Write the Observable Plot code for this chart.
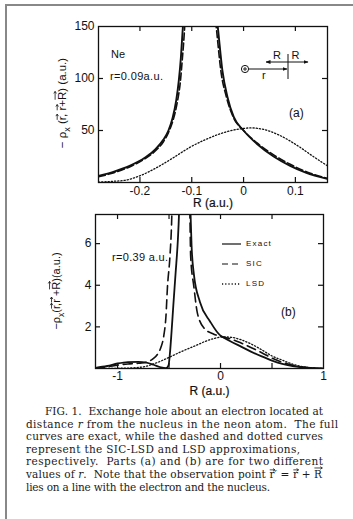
<!DOCTYPE html>
<html><head><meta charset="utf-8">
<script src="https://cdn.jsdelivr.net/npm/d3@7"></script>
<script src="https://cdn.jsdelivr.net/npm/@observablehq/plot@0.6"></script>
<style>
body{margin:0;background:#fff;}
#wrap{position:relative;width:353px;height:519px;overflow:hidden;background:#fff;}
#wrap > *{position:absolute;}
</style></head><body><div id="wrap"></div>
<script>
// ---------- Panel (a): r = 0.09 a.u. ----------
const aExactLeft  = [[-0.28,6.3],[-0.25,10.5],[-0.22,16],[-0.19,24],[-0.17,32],[-0.155,41],[-0.145,50],[-0.137,62],[-0.13,79],[-0.125,98],[-0.121,120],[-0.118,143],[-0.115,165]];
const aExactRight = [[-0.053,165],[-0.049,146],[-0.041,108],[-0.031,82],[-0.019,63],[0.0,50],[0.026,37],[0.058,25],[0.09,16],[0.12,9.5],[0.162,3.5]];
const aSicLeft    = [[-0.28,5.5],[-0.25,9.5],[-0.22,15],[-0.19,23],[-0.17,30.5],[-0.155,39],[-0.145,48],[-0.136,60],[-0.128,77],[-0.122,97],[-0.118,120],[-0.1145,143],[-0.112,165]];
const aSicRight   = [[-0.056,165],[-0.052,146],[-0.044,108],[-0.033,82],[-0.02,63],[0.0,50],[0.026,38],[0.058,26.5],[0.09,17.5],[0.12,10.5],[0.162,4]];
const aLsd        = [[-0.28,0.3],[-0.25,1.2],[-0.23,2],[-0.2,6.5],[-0.167,14.5],[-0.135,24],[-0.103,34],[-0.07,42],[-0.038,48],[-0.006,51.6],[0.014,52.5],[0.039,51],[0.071,45],[0.104,35.5],[0.136,24.5],[0.162,16]];
const aXTicks = [-0.2,-0.1,0,0.1];
const aXTickLabels = ["-0.2","-0.1","0","0.1"];
const aYTicks = [50,100,150];
const aYTickLabels = ["50","100","150"];

// ---------- Panel (b): r = 0.39 a.u. ----------
const bExactLeft  = [[-1.214,0.03],[-1.1,0.12],[-1.0,0.24],[-0.9,0.31],[-0.8,0.32],[-0.72,0.28],[-0.65,0.18],[-0.58,0.06],[-0.53,0.02],[-0.505,0.15],[-0.49,0.8],[-0.475,1.8],[-0.458,3.05],[-0.436,4.6],[-0.414,6.2],[-0.404,7.3],[-0.395,9]];
const bExactRight = [[-0.30,9],[-0.29,7.3],[-0.281,5.9],[-0.258,4.5],[-0.2,3.2],[-0.1,2.25],[0.0,1.58],[0.02,1.52],[0.1,1.3],[0.2,1.05],[0.3,0.8],[0.4,0.58],[0.5,0.38],[0.6,0.22],[0.7,0.12],[0.8,0.05],[0.9,0.02],[1.0,0.0]];
const bSicLeft    = [[-1.214,0.02],[-1.1,0.08],[-1.0,0.16],[-0.9,0.22],[-0.8,0.25],[-0.72,0.3],[-0.66,0.45],[-0.61,0.7],[-0.58,1.0],[-0.55,1.6],[-0.53,2.5],[-0.516,3.85],[-0.491,5.4],[-0.475,7.0],[-0.465,9]];
const bSicRight   = [[-0.305,9],[-0.297,7.3],[-0.29,5.4],[-0.258,3.9],[-0.226,2.7],[-0.161,1.95],[-0.065,1.65],[0.016,1.52],[0.1,1.42],[0.2,1.22],[0.3,1.0],[0.4,0.76],[0.5,0.5],[0.6,0.3],[0.7,0.16],[0.8,0.07],[0.9,0.02],[1.0,0.0]];
const bLsd        = [[-1.214,0.0],[-0.9,0.02],[-0.75,0.08],[-0.65,0.22],[-0.55,0.42],[-0.45,0.65],[-0.35,0.88],[-0.25,1.08],[-0.15,1.3],[-0.05,1.46],[0.02,1.52],[0.1,1.5],[0.2,1.38],[0.3,1.17],[0.4,0.9],[0.5,0.6],[0.6,0.4],[0.7,0.21],[0.8,0.08],[0.9,0.02],[1.0,0.0]];
const bXTicks = [-1,-0.5,0,0.5,1];
const bXTickLabels = ["-1","","0","","1"];
const bYTicks = [2,4,6];
const bYTickLabels = ["2","4","6"];

const legendLabels = ["Exact","SIC","LSD"];
// caption segments: plain strings, {i:"…"} italic, {v:"…"} letter with a vector arrow
const captionLines = [
  ["FIG. 1.  Exchange hole about an electron located at"],
  ["distance ", {i: "r"}, " from the nucleus in the neon atom.  The full"],
  ["curves are exact, while the dashed and dotted curves"],
  ["represent the SIC-LSD and LSD approximations,"],
  ["respectively.  Parts (a) and (b) are for two different"],
  ["values of ", {i: "r"}, ".  Note that the observation point ", {v: "r"}, "\u2032 = ", {v: "r"}, " + ", {v: "R"}],
  ["lies on a line with the electron and the nucleus."]
];
const yTitleA = ["\u2212 \u03C1", {s: "x"}, " (", {v: "r"}, ", ", {v: "r"}, "+", {v: "R"}, ") (a.u.)"];
const yTitleB = ["\u2212\u03C1", {s: "x"}, "(", {v: "r"}, ",", {v: "r"}, " +", {v: "R"}, ")(a.u.)"];

const INK = "#111";
const FONT = "'Liberation Sans', Arial, Helvetica, sans-serif";
const rows = (arr, seg) => arr.map(([R, v]) => ({R, v, seg}));

function panel({width, height, mt, mb, ml, mr, xDomain, yDomain, exact, sic, lsd, xTicks, xLabels, yTicks, yLabels, dash, lw, xPad, labelDy}) {
  const fw = width - ml - mr, fh = height - mt - mb;
  const exactData = exact.flatMap((s, i) => rows(s, "e" + i));
  const sicData = sic.flatMap((s, i) => rows(s, "s" + i));
  const lsdData = rows(lsd, "l");
  const innerX = xTicks.filter(t => t > xDomain[0] && t < xDomain[1]);
  const innerY = yTicks.filter(t => t > yDomain[0] && t < yDomain[1]);
  return Plot.plot({
    width, height, marginTop: mt, marginBottom: mb, marginLeft: ml, marginRight: mr,
    style: {fontFamily: FONT, fontSize: "12px", color: INK, background: "transparent"},
    x: {domain: xDomain, axis: null},
    y: {domain: yDomain, axis: null},
    marks: [
      Plot.line(lsdData, {x: "R", y: "v", z: "seg", curve: "monotone-x", clip: true, stroke: INK, strokeWidth: 1.3, strokeDasharray: "1.2,2", strokeLinecap: "round"}),
      Plot.line(sicData, {x: "R", y: "v", z: "seg", curve: "monotone-x", clip: true, stroke: INK, strokeWidth: 1.6, strokeDasharray: dash}),
      Plot.line(exactData, {x: "R", y: "v", z: "seg", curve: "monotone-x", clip: true, stroke: INK, strokeWidth: lw}),
      Plot.frame({stroke: INK, strokeWidth: 1.3}),
      Plot.tickX(innerX, {x: d => d, insetTop: fh - 5, stroke: INK, strokeWidth: 1.2}),
      Plot.tickX(innerX, {x: d => d, insetBottom: fh - 5, stroke: INK, strokeWidth: 1.2}),
      Plot.tickY(innerY, {y: d => d, insetRight: fw - 5, stroke: INK, strokeWidth: 1.2}),
      Plot.tickY(innerY, {y: d => d, insetLeft: fw - 5, stroke: INK, strokeWidth: 1.2}),
      Plot.axisX(xTicks, {anchor: "bottom", tickSize: 0, tickPadding: xPad, tickFormat: d => xLabels[xTicks.indexOf(d)], label: null, fill: INK, stroke: INK, strokeWidth: 0.25}),
      Plot.axisY(yTicks, {anchor: "left", tickSize: 0, tickPadding: 4, tickFormat: d => yLabels[yTicks.indexOf(d)], label: null, fill: INK, stroke: INK, strokeWidth: 0.25}),
      Plot.text(["R (a.u.)"], {frameAnchor: "bottom", dy: labelDy, text: d => d, fill: INK, fontSize: 12, stroke: INK, strokeWidth: 0.2})
    ]
  });
}

// rich text: segments -> tspans; vector arrows drawn above flagged letters
function richText(parent, segs, {x = 0, y = 0, size = 11, family = FONT, anchor = "start", textLength = null, fill = INK}) {
  const t = parent.append("text").attr("x", x).attr("y", y).attr("font-size", size)
    .attr("font-family", family).attr("fill", fill).attr("text-anchor", anchor)
    .attr("xml:space", "preserve").style("white-space", "pre");
  if (textLength) t.attr("textLength", textLength);
  let idx = 0, pendingDy = 0;
  const vecIdx = [];
  for (const s of segs) {
    const sp = t.append("tspan");
    if (pendingDy) { sp.attr("dy", pendingDy); pendingDy = 0; }
    if (typeof s === "string") { sp.text(s); idx += [...s].length; }
    else if (s.i) { sp.attr("font-style", "italic").text(s.i); idx += s.i.length; }
    else if (s.s) { sp.attr("dy", size * 0.35).attr("font-size", size * 0.78).text(s.s); pendingDy = -size * 0.35; idx += s.s.length; }
    else if (s.v) { sp.text(s.v); vecIdx.push([idx, s.v]); idx += s.v.length; }
  }
  const node = t.node();
  for (const [i, ch] of vecIdx) {
    const a = node.getStartPositionOfChar(i), b = node.getEndPositionOfChar(i);
    const up = (ch === ch.toUpperCase() ? 0.86 : 0.68) * size;
    const yy = a.y - up - 1;
    const x1 = a.x + 0.3, x2 = Math.max(b.x, a.x + size * 0.5) + 0.3;
    parent.append("path").attr("d", `M${x1},${yy}H${x2}M${x2 - 2},${yy - 1.3}L${x2},${yy}L${x2 - 2},${yy + 1.3}`)
      .attr("fill", "none").attr("stroke", fill).attr("stroke-width", 0.8);
  }
  return t;
}

const wrap = d3.select("#wrap");
wrap.append("div").style("left", "5px").style("top", "4px").style("width", "348px").style("height", "2px").style("background", "#888");
wrap.append("div").style("left", "5px").style("top", "4px").style("width", "2px").style("height", "515px").style("background", "#888");

// Panel (a)
const pa = panel({width: 353, height: 210, mt: 26, mb: 28, ml: 98, mr: 26,
  xDomain: [-0.28, 0.162], yDomain: [0, 150],
  exact: [aExactLeft, aExactRight], sic: [aSicLeft, aSicRight], lsd: aLsd,
  xTicks: aXTicks, xLabels: aXTickLabels, yTicks: aYTicks, yLabels: aYTickLabels, dash: "7,3", lw: 1.9, xPad: 4, labelDy: 24});
pa.style.left = "0px"; pa.style.top = "0px";
document.getElementById("wrap").appendChild(pa);

// Panel (b)
const pb = panel({width: 353, height: 195, mt: 9, mb: 32, ml: 95, mr: 30,
  xDomain: [-1.214, 1.0], yDomain: [0, 7.4],
  exact: [bExactLeft, bExactRight], sic: [bSicLeft, bSicRight], lsd: bLsd,
  xTicks: bXTicks, xLabels: bXTickLabels, yTicks: bYTicks, yLabels: bYTickLabels, dash: "9,5", lw: 1.8, xPad: 3, labelDy: 26});
pb.style.left = "0px"; pb.style.top = "205px";
document.getElementById("wrap").appendChild(pb);

// y-axis titles (rotated)
const ga = d3.select(pa).append("g").attr("transform", "translate(66,103) rotate(-90)");
richText(ga, yTitleA, {size: 11.5, anchor: "middle"});
const gb = d3.select(pb).append("g").attr("transform", `translate(60,${291 - 205}) rotate(-90)`);
richText(gb, yTitleB, {size: 11, anchor: "middle"});

// plain annotation text
const txt = (sel, x, y, s, size, extra = {}) => {
  const t = sel.append("text").attr("x", x).attr("y", y).attr("dominant-baseline", "middle")
    .attr("text-anchor", "start").attr("font-family", FONT).attr("font-size", size).attr("fill", INK).text(s);
  for (const k in extra) t.attr(k, extra[k]);
  return t;
};

// Annotations panel (a)
const sa = d3.select(pa);
txt(sa, 111, 55, "Ne", 11);
txt(sa, 110, 77, "r=0.09a.u.", 11, {textLength: 53});
txt(sa, 289, 114, "(a)", 12);
const defs = sa.append("defs");
defs.append("marker").attr("id", "ah").attr("viewBox", "0 0 10 10").attr("refX", 9).attr("refY", 5)
  .attr("markerWidth", 5).attr("markerHeight", 5).attr("orient", "auto-start-reverse")
  .append("path").attr("d", "M0,1L10,5L0,9z").attr("fill", INK);
sa.append("circle").attr("cx", 245).attr("cy", 69).attr("r", 3.6).attr("fill", "none").attr("stroke", INK).attr("stroke-width", 1);
sa.append("path").attr("d", "M243,69H247M245,67V71").attr("stroke", INK).attr("stroke-width", 0.9);
sa.append("line").attr("x1", 249).attr("y1", 69).attr("x2", 287).attr("y2", 69).attr("stroke", INK).attr("stroke-width", 1).attr("marker-end", "url(#ah)");
sa.append("line").attr("x1", 288).attr("y1", 54).attr("x2", 288).attr("y2", 79).attr("stroke", INK).attr("stroke-width", 1);
sa.append("line").attr("x1", 266).attr("y1", 62).attr("x2", 308).attr("y2", 62).attr("stroke", INK).attr("stroke-width", 1)
  .attr("marker-start", "url(#ah)").attr("marker-end", "url(#ah)");
txt(sa, 273, 56, "R", 11);
txt(sa, 291.5, 56, "R", 11);
txt(sa, 262, 76, "r", 11);

// Annotations panel (b)
const sb = d3.select(pb);
txt(sb, 112, 53, "r=0.39 a.u.", 11, {textLength: 56});
txt(sb, 281, 108, "(b)", 12);
const legDash = [null, "6,4", "1.2,2"];
const legY = [39, 59, 79];
legendLabels.forEach((s, i) => {
  const l = sb.append("line").attr("x1", 222).attr("x2", 241).attr("y1", legY[i]).attr("y2", legY[i])
    .attr("stroke", INK).attr("stroke-width", i === 2 ? 1.3 : 1.2);
  if (legDash[i]) l.attr("stroke-dasharray", legDash[i]);
  txt(sb, 246, legY[i], s, 8, {"letter-spacing": "1.2px"});
});

// Caption
const cap = wrap.append("svg").attr("width", 353).attr("height", 112).style("left", "0px").style("top", "402px");
const capX = [45, 26, 26, 26, 26, 26, 26];
const capLen = [278, 312, 297, 274, 297, 296, 244];
captionLines.forEach((line, i) => {
  richText(cap, line, {x: capX[i], y: 13 + i * 12.6, size: 10.5, family: "'DejaVu Serif', 'Liberation Serif', serif", textLength: capLen[i], fill: "#1a1a1a"});
});
</script>
</body></html>
